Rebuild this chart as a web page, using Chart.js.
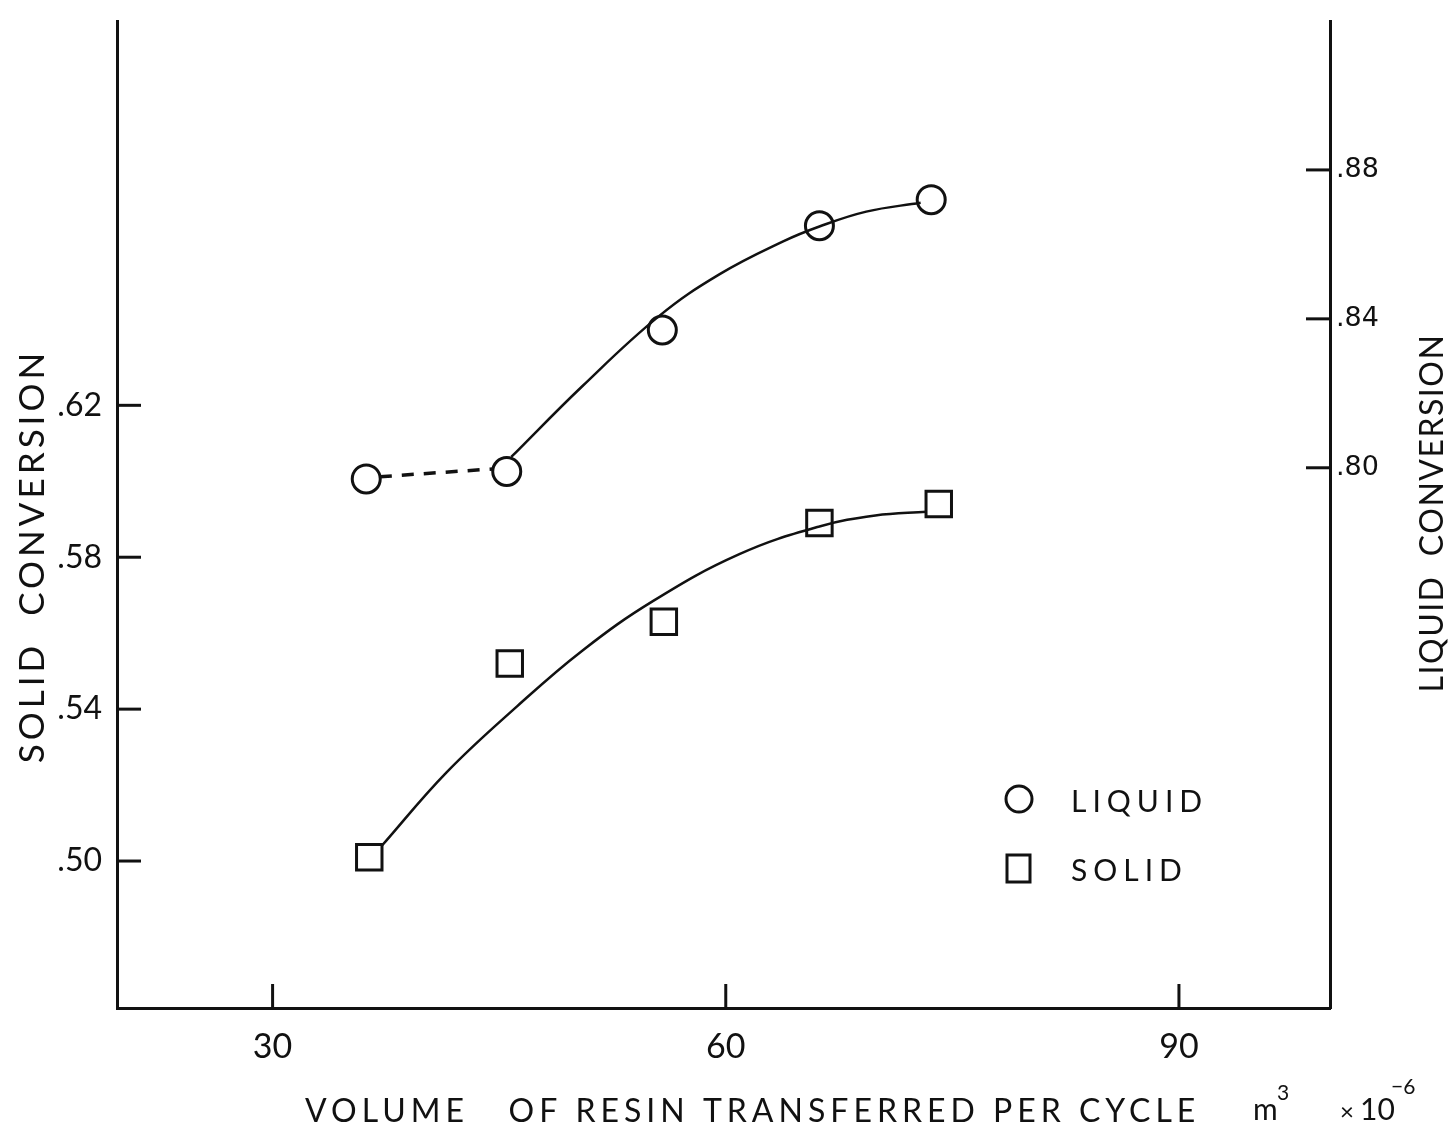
<!DOCTYPE html>
<html>
<head>
<meta charset="utf-8">
<script src="https://cdn.jsdelivr.net/npm/chart.js@4.4.1/dist/chart.umd.min.js"></script>
<style>
  html, body { margin: 0; padding: 0; background: #ffffff; }
  #wrap { width: 1453px; height: 1135px; }
</style>
</head>
<body>
<div id="wrap"><canvas id="c" width="1453" height="1135"></canvas></div>
<script>
// Measured points: liquid conversion (right axis) and solid conversion (left axis)
const liquidX = [36.2, 45.5, 55.8, 66.2, 73.6];
const liquidY = [0.797, 0.799, 0.837, 0.865, 0.872];
const solidX  = [36.4, 45.7, 55.9, 66.2, 74.1];
const solidY  = [0.501, 0.552, 0.563, 0.589, 0.594];

// Hand-drawn trend curves through the points
const liquidDashX = [37.1, 44.6];
const liquidDashY = [0.7976, 0.7997];
const liquidFitX = [45.8, 50.5, 55.6, 59.6, 63.8, 66.2, 69.3, 72.9];
const liquidFitY = [0.8029, 0.8219, 0.8408, 0.8520, 0.8608, 0.8648, 0.8688, 0.8712];
const solidFitX  = [37.2, 41.5, 46.2, 50.5, 55.2, 60.9, 66.2, 69.9, 73.3];
const solidFitY  = [0.5039, 0.5233, 0.5408, 0.5554, 0.5685, 0.5808, 0.5881, 0.5910, 0.5920];

// Axis ticks
const xTicks = [30, 60, 90];
const solidTicks = [0.50, 0.54, 0.58, 0.62];
const liquidTicks = [0.80, 0.84, 0.88];

// Texts
const xTitle = 'VOLUME   OF RESIN TRANSFERRED PER CYCLE';
const solidTitle = 'SOLID  CONVERSION';
const liquidTitle = 'LIQUID  CONVERSION';
const legendLabels = ['LIQUID', 'SOLID'];

const INK = '#111111';
const pairs = (xs, ys) => xs.map((x, i) => ({ x: x, y: ys[i] }));
const decimalLabel = v => '.' + Number(v).toFixed(2).split('.')[1];
const noPad = s => { s.paddingTop = 0; s.paddingBottom = 0; s.paddingLeft = 0; s.paddingRight = 0; };

// Tick marks drawn on the inner side of each axis
const inwardTicks = {
  id: 'inwardTicks',
  afterDraw(chart) {
    const ctx = chart.ctx;
    const len = 24;
    ctx.save();
    ctx.strokeStyle = INK;
    ctx.lineWidth = 3;
    ctx.lineCap = 'butt';
    const sx = chart.scales.x;
    sx.ticks.forEach(t => {
      const p = sx.getPixelForValue(t.value);
      ctx.beginPath(); ctx.moveTo(p, sx.top); ctx.lineTo(p, sx.top - len); ctx.stroke();
    });
    const sy = chart.scales.y;
    sy.ticks.forEach(t => {
      const p = sy.getPixelForValue(t.value);
      ctx.beginPath(); ctx.moveTo(sy.right, p); ctx.lineTo(sy.right + len, p); ctx.stroke();
    });
    const sy1 = chart.scales.y1;
    sy1.ticks.forEach(t => {
      const p = sy1.getPixelForValue(t.value);
      ctx.beginPath(); ctx.moveTo(sy1.left, p); ctx.lineTo(sy1.left - len, p); ctx.stroke();
    });
    ctx.restore();
  }
};

// Axis titles and the key
const annotations = {
  id: 'annotations',
  afterDraw(chart) {
    const ctx = chart.ctx;
    const area = chart.chartArea;
    ctx.save();
    ctx.fillStyle = INK;
    ctx.strokeStyle = INK;
    ctx.textBaseline = 'middle';

    // left title
    ctx.save();
    ctx.translate(33, area.top + 535);
    ctx.rotate(-Math.PI / 2);
    ctx.font = '35px Lato';
    ctx.letterSpacing = '4px';
    ctx.textAlign = 'center';
    ctx.fillText(solidTitle, 0, 0);
    ctx.restore();

    // right title
    ctx.save();
    ctx.translate(1433, area.top + 492);
    ctx.rotate(-Math.PI / 2);
    ctx.font = '32px Lato';
    ctx.letterSpacing = '1.5px';
    ctx.textAlign = 'center';
    ctx.fillText(liquidTitle, 0, 0);
    ctx.restore();

    // bottom title with units
    ctx.textAlign = 'left';
    ctx.textBaseline = 'alphabetic';
    ctx.font = '32px Lato';
    ctx.letterSpacing = '5px';
    ctx.fillText(xTitle, 305, 1122);
    ctx.letterSpacing = '0px';
    ctx.font = '30px Lato';
    ctx.fillText('m', 1253, 1120);
    ctx.font = '21px Lato';
    ctx.fillText('3', 1277, 1100);
    ctx.font = '24px Lato';
    ctx.fillText('×', 1340, 1120);
    ctx.font = '30px Lato';
    ctx.fillText('10', 1360, 1120);
    ctx.font = '21px Lato';
    ctx.fillText('−6', 1391, 1094);

    // key
    ctx.lineWidth = 3;
    ctx.beginPath();
    ctx.arc(1019, 799, 13, 0, Math.PI * 2);
    ctx.stroke();
    ctx.strokeRect(1007, 855, 23, 27);
    ctx.font = '30px Lato';
    ctx.letterSpacing = '6px';
    ctx.textBaseline = 'middle';
    ctx.fillText(legendLabels[0], 1071, 802);
    ctx.fillText(legendLabels[1], 1071, 871);
    ctx.restore();
  }
};

const lineStyle = {
  showLine: true,
  borderColor: INK,
  borderWidth: 2.5,
  pointRadius: 0,
  pointHoverRadius: 0,
  fill: false,
  tension: 0.4
};

new Chart(document.getElementById('c'), {
  type: 'scatter',
  data: {
    datasets: [
      Object.assign({ label: 'liquid trend (dashed)', data: pairs(liquidDashX, liquidDashY), yAxisID: 'y1' },
        lineStyle, { borderDash: [12, 10], borderWidth: 3.5, tension: 0 }),
      Object.assign({ label: 'liquid trend', data: pairs(liquidFitX, liquidFitY), yAxisID: 'y1' }, lineStyle),
      Object.assign({ label: 'solid trend', data: pairs(solidFitX, solidFitY), yAxisID: 'y' }, lineStyle),
      {
        label: legendLabels[0],
        data: pairs(liquidX, liquidY),
        yAxisID: 'y1',
        pointStyle: 'circle',
        pointRadius: 14,
        pointBorderWidth: 3,
        borderColor: INK,
        backgroundColor: 'rgba(0,0,0,0)',
        showLine: false
      },
      {
        label: legendLabels[1],
        data: pairs(solidX, solidY),
        yAxisID: 'y',
        pointStyle: 'rect',
        pointRadius: 18,
        pointBorderWidth: 3,
        borderColor: INK,
        backgroundColor: 'rgba(0,0,0,0)',
        showLine: false
      }
    ]
  },
  options: {
    responsive: false,
    animation: false,
    devicePixelRatio: 1,
    layout: { padding: { top: 14, left: 0, right: 0, bottom: 0 } },
    plugins: {
      legend: { display: false },
      tooltip: { enabled: false }
    },
    scales: {
      x: {
        type: 'linear',
        min: 19.7,
        max: 100,
        afterBuildTicks: s => { s.ticks = xTicks.map(v => ({ value: v })); },
        afterFit: s => { s.height = 127; noPad(s); },
        grid: { display: true, drawOnChartArea: false, drawTicks: false },
        border: { display: true, color: INK, width: 3 },
        ticks: {
          color: INK,
          padding: 19,
          font: { family: 'Lato', size: 34 },
          callback: v => String(v)
        }
      },
      y: {
        type: 'linear',
        position: 'left',
        min: 0.4613,
        max: 0.7212,
        afterBuildTicks: s => { s.ticks = solidTicks.map(v => ({ value: v })); },
        afterFit: s => { s.width = 117; noPad(s); },
        grid: { display: true, drawOnChartArea: false, drawTicks: false },
        border: { display: true, color: INK, width: 3 },
        ticks: {
          color: INK,
          padding: 15,
          font: { family: 'Lato', size: 32 },
          callback: v => decimalLabel(v)
        }
      },
      y1: {
        type: 'linear',
        position: 'right',
        min: 0.6549,
        max: 0.9200,
        afterBuildTicks: s => { s.ticks = liquidTicks.map(v => ({ value: v })); },
        afterFit: s => { s.width = 123; noPad(s); },
        grid: { display: true, drawOnChartArea: false, drawTicks: false },
        border: { display: true, color: INK, width: 3 },
        ticks: {
          color: INK,
          padding: 6,
          font: { family: 'DejaVu Sans', size: 27 },
          callback: v => decimalLabel(v)
        }
      }
    }
  },
  plugins: [inwardTicks, annotations]
});
</script>
</body>
</html>
